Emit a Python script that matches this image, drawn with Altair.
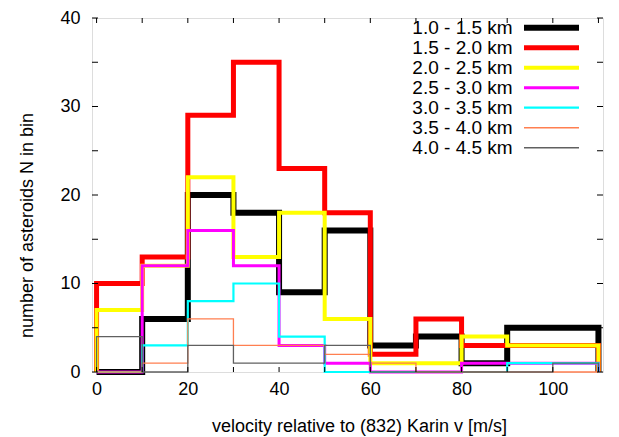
import altair as alt
import pandas as pd

# ---- data ----
series_names = ["1.0 - 1.5 km", "1.5 - 2.0 km", "2.0 - 2.5 km", "2.5 - 3.0 km",
                "3.0 - 3.5 km", "3.5 - 4.0 km", "4.0 - 4.5 km"]
bin_edges = [0, 10, 20, 30, 40, 50, 60, 70, 80, 90, 100, 110]
counts_10_15 = [0, 6, 20, 18, 9, 16, 3, 4, 1, 5, 5]
counts_15_20 = [10, 13, 29, 35, 23, 18, 2, 6, 3, 3, 3]
counts_20_25 = [7, 12, 22, 13, 18, 6, 1, 1, 4, 3, 3]
counts_25_30 = [0, 12, 16, 12, 3, 1, 0, 0, 1, 1, 1]
counts_30_35 = [0, 3, 8, 10, 4, 0, 0, 0, 0, 1, 1]
counts_35_40 = [0, 1, 6, 3, 3, 2, 1, 0, 0, 0, 0]
counts_40_45 = [4, 0, 3, 1, 1, 3, 0, 0, 0, 0, 1]
x_tick_labels = [0, 20, 40, 60, 80, 100]
y_tick_labels = [0, 10, 20, 30, 40]
x_minor = [0, 10, 20, 30, 40, 50, 60, 70, 80, 90, 100, 110]
y_minor = [0, 5, 10, 15, 20, 25, 30, 35, 40]

all_counts = [counts_10_15, counts_15_20, counts_20_25, counts_25_30,
              counts_30_35, counts_35_40, counts_40_45]

colors = ["#000000", "#ff0000", "#ffff00", "#ff00ff", "#00ffff", "#ff7f50", "#606060"]
widths = [6, 5, 4, 3, 2.2, 1.3, 1.3]
FONT = "Liberation Sans"
W, H = 511, 354

xscale = alt.Scale(domain=[-1, 111], nice=False, zero=False)
yscale = alt.Scale(domain=[0, 40], nice=False)

x_axis = alt.Axis(values=x_tick_labels, ticks=False, domain=False, grid=False,
                  title="velocity relative to (832) Karin  v [m/s]",
                  labelFontSize=18, labelPadding=8, labelColor="black",
                  titleFontSize=18, titleFontWeight="normal", titleColor="black",
                  titleX=267, titleY=54, titleBaseline="middle", titleAlign="center")
y_axis = alt.Axis(values=y_tick_labels, ticks=False, domain=False, grid=False,
                  title="number of asteroids N in bin",
                  labelFontSize=18, labelPadding=12, labelColor="black",
                  titleFontSize=18, titleFontWeight="normal", titleColor="black",
                  titleX=-65, titleY=207, titleBaseline="middle", titleAlign="center", titleAngle=270)

layers = []
for i, (name, cnt) in enumerate(zip(series_names, all_counts)):
    pts = [(bin_edges[0], 0)] + [(bin_edges[j], cnt[j]) for j in range(len(cnt))] + [(bin_edges[-1], 0)]
    sdf = pd.DataFrame({"x": [p[0] for p in pts], "y": [p[1] for p in pts],
                        "order": list(range(len(pts))), "series": name})
    layers.append(alt.Chart(sdf).mark_line(
        interpolate="step-after", strokeJoin="miter", strokeCap="butt",
        color=colors[i], strokeWidth=widths[i]).encode(
        x=alt.X("x:Q", scale=xscale, axis=x_axis),
        y=alt.Y("y:Q", scale=yscale, axis=y_axis),
        order=alt.Order("order:Q"),
    ))

xt = pd.DataFrame({"t": x_minor})
yt = pd.DataFrame({"t": y_minor})
tick_style = dict(color="black", strokeWidth=1)
xb = alt.Chart(xt).mark_rule(**tick_style).encode(
    x=alt.X("t:Q", scale=xscale, axis=x_axis), y=alt.value(H), y2=alt.value(H - 5))
xtop = alt.Chart(xt).mark_rule(**tick_style).encode(
    x=alt.X("t:Q", scale=xscale, axis=x_axis), y=alt.value(0), y2=alt.value(5))
yl = alt.Chart(yt).mark_rule(**tick_style).encode(
    y=alt.Y("t:Q", scale=yscale, axis=y_axis), x=alt.value(0), x2=alt.value(6))
yr = alt.Chart(yt).mark_rule(**tick_style).encode(
    y=alt.Y("t:Q", scale=yscale, axis=y_axis), x=alt.value(W), x2=alt.value(W - 6))

main = alt.layer(*layers, xb, xtop, yl, yr)

leg_df = pd.DataFrame({"series": series_names})
leg_y = alt.Y("series:N", scale=alt.Scale(type="point", domain=series_names, range=[9.7, 129.7], padding=0), axis=None)
leg_text = alt.Chart(leg_df).mark_text(align="right", baseline="middle", fontSize=19, font=FONT, color="black").encode(
    x=alt.value(420.7), y=leg_y, text="series:N")
leg_rules = []
for i, name in enumerate(series_names):
    leg_rules.append(alt.Chart(leg_df).transform_filter(alt.datum.series == name).mark_rule(
        strokeCap="butt", color=colors[i], strokeWidth=max(widths[i], 1.6)).encode(
        x=alt.value(432), x2=alt.value(487), y=leg_y))

legend = alt.layer(leg_text, *leg_rules)

chart = alt.layer(main, legend).resolve_scale(y="independent").properties(
    width=W, height=H,
    padding={"left": 84, "top": 10, "right": 8, "bottom": 64},
    autosize=alt.AutoSizeParams(type="none"),
).configure_view(stroke="black", strokeWidth=1.2).configure(font=FONT, background="white")

chart.save("out.html", embed_options={"renderer": "svg", "actions": False})
